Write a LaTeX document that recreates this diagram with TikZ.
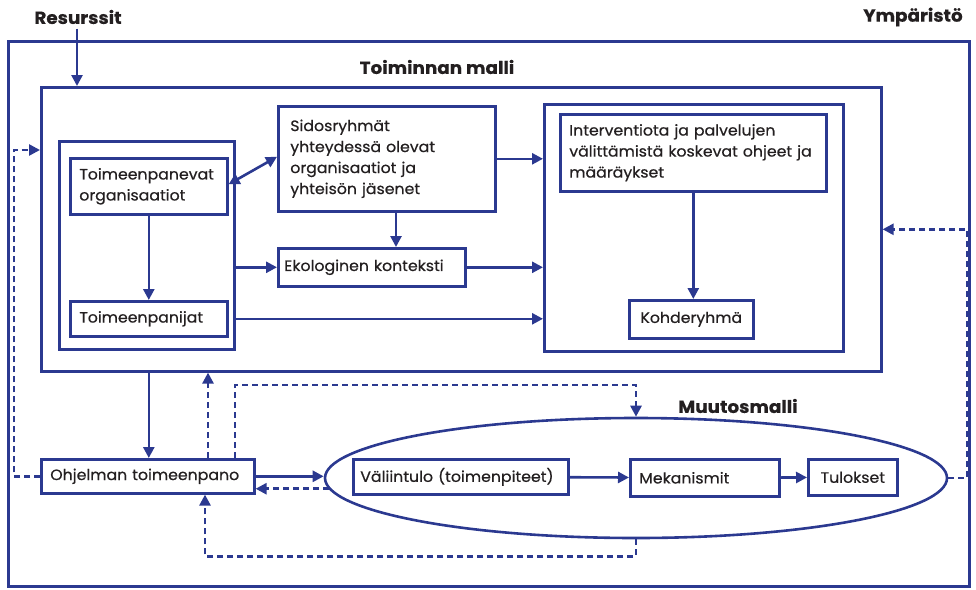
\documentclass[tikz,border=0pt]{standalone}
\usepackage{fontspec}
\setmainfont{Poppins}[FakeStretch=1.05, FakeBold=0.5]
\usetikzlibrary{arrows.meta,shapes.geometric}
\definecolor{modelblue}{HTML}{2B3990}
\definecolor{labelgray}{HTML}{231F20}

\begin{document}
\begin{tikzpicture}
  [x=1pt, y=-1pt, line width=2.6pt,
   every node/.style={text=labelgray, font=\fontsize{15}{21}\selectfont},
   box/.style={draw=modelblue, rectangle, anchor=north west, align=left, inner xsep=9pt, inner ysep=0pt, fill=white},
   frame/.style={draw=modelblue, rectangle, anchor=north west, inner sep=0pt},
   title/.style={font=\fontsize{17.5}{21}\selectfont\bfseries},
   flow/.style={draw=modelblue, -{Triangle[length=11pt, width=11pt]}},
   back/.style={flow, dash pattern=on 6pt off 4pt}]
  \useasboundingbox (0,0) rectangle (976,589);

  % frames
  \node[frame, minimum width=961pt, minimum height=545pt] (env) at (7,40) {};
  \node[frame, minimum width=840pt, minimum height=284pt] (toim) at (40,86) {};
  \node[frame, minimum width=175pt, minimum height=208pt] (leftgrp) at (58,140) {};
  \node[frame, minimum width=299pt, minimum height=247pt] (rightgrp) at (543,103) {};
  \node[draw=modelblue, ellipse, inner sep=0pt, minimum width=622pt, minimum height=120pt] (change) at (636,478) {};

  % labels
  \node[title] (resurssit) at (78,17) {Resurssit};
  \node[title] (ymparisto) at (913,17) {Ympäristö};
  \node[title] (toimtitle) at (437,67) {Toiminnan malli};
  \node[title] (muutos) at (738,406) {Muutosmalli};

  % boxes
  \node[box, minimum width=157pt, minimum height=56pt, text width=139pt] (org) at (69,157) {Toimeenpanevat\\organisaatiot};
  \node[box, minimum width=157pt, minimum height=35pt, text width=139pt] (impl) at (69,300) {Toimeenpanijat};
  \node[box, minimum width=217pt, minimum height=105pt, text width=193pt, inner xsep=12pt] (stake) at (277,105) {Sidosryhmät\\yhteydessä olevat\\organisaatiot ja\\yhteisön jäsenet};
  \node[box, minimum width=187pt, minimum height=38pt, text width=175pt, inner xsep=6pt] (eco) at (277,247) {Ekologinen konteksti};
  \node[box, minimum width=266pt, minimum height=77pt, text width=248pt] (guide) at (559,113) {Interventiota ja palvelujen\\välittämistä koskevat ohjeet ja\\määräykset\\[-6pt]};
  \node[box, minimum width=124pt, minimum height=38pt, text width=106pt, align=center] (target) at (628,299) {Kohderyhmä};
  \node[box, minimum width=213pt, minimum height=34pt, text width=195pt] (prog) at (40,458) {Ohjelman toimeenpano};
  \node[box, minimum width=215pt, minimum height=35pt, text width=201pt, inner xsep=7pt] (interv) at (352,458) {Väliintulo (toimenpiteet)};
  \node[box, minimum width=149pt, minimum height=37pt, text width=131pt] (mech) at (629,458) {Mekanismit};
  \node[box, minimum width=89pt, minimum height=36pt, text width=81pt, inner xsep=4pt, align=center] (result) at (807,458) {Tulokset};

  % solid connectors
  \draw[flow] ([xshift=-1pt]resurssit.south) -- ([xshift=-1pt]resurssit.south |- toim.north);
  \draw[flow, {Triangle[length=11pt, width=11pt]}-{Triangle[length=11pt, width=11pt]}] ([yshift=2pt]org.east) -- ([yshift=2pt]stake.west);
  \draw[flow] (stake.east) -- (stake.east -| rightgrp.west);
  \draw[flow] ([xshift=119pt]stake.south west) -- ([xshift=119pt]stake.south west |- eco.north);
  \draw[flow] (eco.west -| leftgrp.east) -- (eco.west);
  \draw[flow] (eco.east) -- (eco.east -| rightgrp.west);
  \draw[flow] (impl.east -| leftgrp.east) -- (impl.east -| rightgrp.west);
  \draw[flow] (org.south) -- (impl.north);
  \draw[flow] (guide.south) -- (guide.south |- target.north);
  \draw[flow] (toim.south -| org.south) -- (prog.north -| org.south);
  \draw[flow] (prog.east) -- (prog.east -| change.west);
  \draw[flow] (interv) -- (mech);
  \draw[flow] (mech) -- (result);

  % feedback loops
  \coordinate (leftloop) at (14,150);
  \draw[back] ([xshift=168pt]prog.north west) -- ([xshift=168pt]prog.north west |- toim.south);
  \draw[back] ([xshift=195pt]prog.north west) -- ++(0,-73) -| (change.north);
  \draw[back] (prog.west) -| (leftloop) -- (leftloop -| toim.west);
  \draw[back] (change.182.5) -- (change.182.5 -| prog.east);
  \draw[back] (change.south) -- ++(0,17) -| ([xshift=165pt]prog.south west);
  \draw[back] (change.east) -- ++(19,0) |- (toim.east);
\end{tikzpicture}
\end{document}
